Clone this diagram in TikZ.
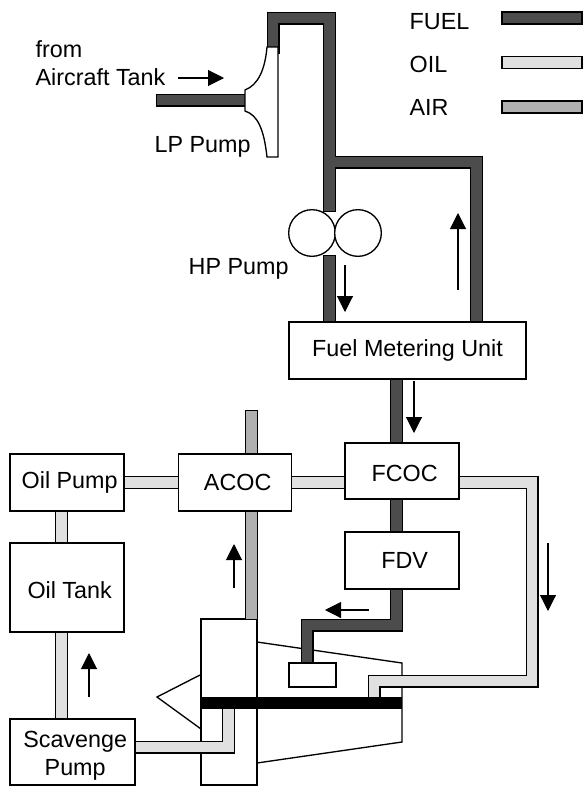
\documentclass[tikz,border=0pt]{standalone}
\usepackage{fontspec}
\setmainfont{Liberation Sans}
\usetikzlibrary{arrows.meta,backgrounds}
\definecolor{fuelgray}{gray}{0.30}
\definecolor{oilgray}{gray}{0.88}
\definecolor{airgray}{gray}{0.69}
\newcommand{\nudge}{\hspace*{4pt}}
\newcommand{\droptext}[2]{\raisebox{-#1}[\height][\depth]{#2}}

\begin{document}
\begin{tikzpicture}
          [x=0.75pt,y=-0.75pt,line width=1pt,
          unit/.style={rectangle,draw,fill=white,inner sep=0pt,font=\fontsize{17.5}{21}\selectfont,align=center},
          fuel/.style={draw=black,line width=1pt,double=fuelgray,double distance=7.75pt,line join=miter},
          oil/.style={draw=black,line width=1pt,double=oilgray,double distance=7.75pt,line join=miter},
          air/.style={draw=black,line width=1pt,double=airgray,double distance=7.75pt,line join=miter},
          legendbar/.style={rectangle,draw,minimum width=60pt,minimum height=9pt,inner sep=0pt},
          pumpwheel/.style={circle,draw,fill=white,minimum size=35pt,inner sep=0pt},
          flow/.style={-{Triangle[length=12pt,width=12pt]},line width=0.8pt},
          tag/.style={anchor=west,inner sep=0pt,font=\fontsize{17.5}{21}\selectfont}]
          \useasboundingbox (0,0) rectangle (583,786);
          % free pipe ends
          \coordinate (tankin)   at (162.5,100);
          \coordinate (lpin)     at (245,100);
          \coordinate (lpout)    at (273,47);
          \coordinate (hptop)    at (329.5,205.5);
          \coordinate (hpbot)    at (329.5,261.5);
          \coordinate (branch)   at (329.5,162);
          \coordinate (fmuback)  at (476.5,322);
          \coordinate (airtop)   at (251.5,416.5);
          \coordinate (airbot)   at (251.5,619);
          \coordinate (fueldown) at (396.5,625);
          \coordinate (burner)   at (307,663);
          \coordinate (oilrun)   at (532,681);
          \coordinate (shaftoil) at (374,700);
          \coordinate (shaftsc)  at (228.5,705);
          \coordinate (tankline) at (61.5,600);
          % boxes
          \node[unit,minimum width=177.75pt,minimum height=42.75pt] (fmu) at (407.5,350.5) {Fuel Metering Unit};
          \node[unit,minimum width=85.5pt,minimum height=42pt] (fcoc) at (402,471) {\nudge\droptext{1.5pt}{FCOC}};
          \node[unit,minimum width=85.5pt,minimum height=42.75pt] (fdv) at (402,560.5) {\nudge FDV};
          \node[unit,minimum width=84.75pt,minimum height=42.75pt] (acoc) at (235,482.5) {\nudge ACOC};
          \node[unit,minimum width=85.5pt,minimum height=42.75pt] (oilpump) at (67,482.5) {\nudge Oil Pump};
          \node[unit,minimum width=85.5pt,minimum height=66.75pt] (oiltank) at (67,587.5) {\nudge\droptext{2pt}{Oil Tank}};
          \node[unit,minimum width=93.75pt,minimum height=49.5pt] (scavenge) at (72.5,752) {\nudge\droptext{3pt}{Scavenge}\\\nudge\droptext{3pt}{Pump}};
          \node[unit,minimum width=35.25pt,minimum height=18pt] (nozzle) at (312.5,675) {};
          \node[pumpwheel] (hpl) at (312,233) {};
          \node[pumpwheel] (hpr) at (358,233) {};
          \begin{scope}[on background layer={line width=1pt}]
          % engine body
          \draw (257,642) -- (402,663) -- (402,742) -- (257,763);
          \draw (201,729) -- (157,697) -- (200,675);
          \draw[fill=white] (201,619) rectangle (257,785);
          % pipes
          \draw[fuel,line cap=rect] (tankin) -- (lpin);
          \draw[fuel,line cap=rect] (lpout) |- (329.5,18) -- (hptop) (branch) -| (fmuback);
          \draw[fuel,line cap=rect] (hpbot) -- (fmu.north -| hpbot);
          \draw[fuel] (fmu.south -| fueldown) -- (fcoc.north -| fueldown);
          \draw[fuel] (fcoc.south -| fueldown) -- (fdv.north -| fueldown);
          \draw[fuel] (fdv.south -| fueldown) -- (fueldown) -| (burner);
          \draw[air,line cap=rect] (airtop) -- (acoc.north -| airtop);
          \draw[air] (acoc.south -| airtop) -- (airbot);
          \draw[oil] (oilpump.east) -- (acoc.west);
          \draw[oil] (acoc.east) -- (fcoc.west |- acoc.east);
          \draw[oil] (fcoc.east |- acoc.east) -| (oilrun) -| (shaftoil);
          \draw[oil] (oilpump.south -| tankline) -- (oiltank.north -| tankline);
          \draw[oil] (oiltank.south -| tankline) -- (scavenge.north -| tankline);
          \draw[oil] (scavenge.east |- 0,747) -| (shaftsc);
          \end{scope}
          % LP pump
          \draw[fill=white] (245,90) .. controls (258,85) and (265,70) .. (267,47) -- (278,47) -- (278,157) -- (267,157)
            .. controls (264,130) and (258,115) .. (245,111) -- cycle;
          % shaft
          \fill (201,697) rectangle (402,709);
          % flow directions
          \draw[flow] (178,78) -- (224,78);
          \draw[flow] (345,265) -- (345,312);
          \draw[flow] (458,290) -- (458,213);
          \draw[flow] (414,381) -- (414,433);
          \draw[flow] (548,543) -- (548,611);
          \draw[flow] (369,610) -- (325,610);
          \draw[flow] (234,588) -- (234,544);
          \draw[flow] (89,697) -- (89,653);
          % labels
          \node[tag] (from) at (35,49) {from};
          \node[tag] (tank) at (35,77) {Aircraft Tank};
          \node[tag] (lp) at (154,147) {LP Pump};
          \node[tag] (hp) at (188,269) {HP Pump};
          \node[tag] (fuellabel) at (409,22) {FUEL};
          \node[tag] (oillabel) at (409,64) {OIL};
          \node[tag] (airlabel) at (409,107) {AIR};
          % legend
          \node[legendbar,fill=fuelgray] (fuelbar) at (542,18) {};
          \node[legendbar,fill=oilgray] (oilbar) at (542,62.5) {};
          \node[legendbar,fill=airgray] (airbar) at (542,107) {};
        \end{tikzpicture}
\end{document}
